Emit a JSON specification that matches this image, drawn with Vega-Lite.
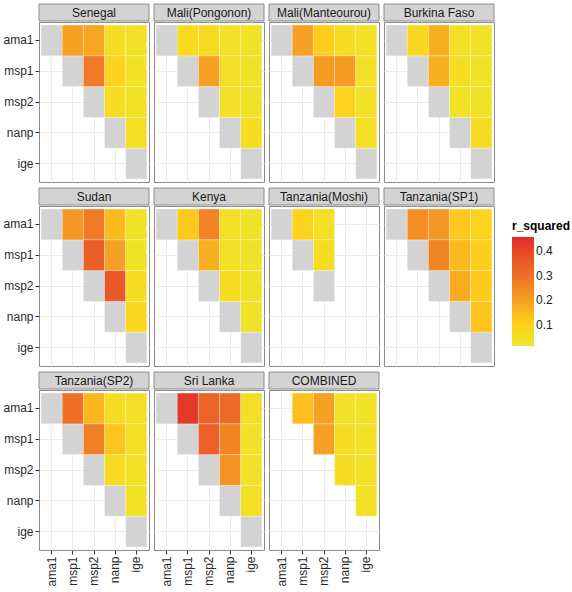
{
 "$schema": "https://vega.github.io/schema/vega-lite/v6.json",
 "padding": {"left": 2, "top": 3, "right": 0, "bottom": 0},
 "background": "white",
 "data": {"values": [
  {"s":"Senegal","r":"ama1","c":"ama1","v":null},{"s":"Senegal","r":"msp1","c":"msp1","v":null},{"s":"Senegal","r":"msp2","c":"msp2","v":null},{"s":"Senegal","r":"nanp","c":"nanp","v":null},{"s":"Senegal","r":"ige","c":"ige","v":null},
  {"s":"Senegal","r":"ama1","c":"msp1","v":0.2},{"s":"Senegal","r":"ama1","c":"msp2","v":0.19},{"s":"Senegal","r":"ama1","c":"nanp","v":0.06},{"s":"Senegal","r":"ama1","c":"ige","v":0.04},
  {"s":"Senegal","r":"msp1","c":"msp2","v":0.28},{"s":"Senegal","r":"msp1","c":"nanp","v":0.1},{"s":"Senegal","r":"msp1","c":"ige","v":0.04},
  {"s":"Senegal","r":"msp2","c":"nanp","v":0.06},{"s":"Senegal","r":"msp2","c":"ige","v":0.04},{"s":"Senegal","r":"nanp","c":"ige","v":0.05},
  {"s":"Mali(Pongonon)","r":"ama1","c":"ama1","v":null},{"s":"Mali(Pongonon)","r":"msp1","c":"msp1","v":null},{"s":"Mali(Pongonon)","r":"msp2","c":"msp2","v":null},{"s":"Mali(Pongonon)","r":"nanp","c":"nanp","v":null},{"s":"Mali(Pongonon)","r":"ige","c":"ige","v":null},
  {"s":"Mali(Pongonon)","r":"ama1","c":"msp1","v":0.07},{"s":"Mali(Pongonon)","r":"ama1","c":"msp2","v":0.07},{"s":"Mali(Pongonon)","r":"ama1","c":"nanp","v":0.04},{"s":"Mali(Pongonon)","r":"ama1","c":"ige","v":0.04},
  {"s":"Mali(Pongonon)","r":"msp1","c":"msp2","v":0.2},{"s":"Mali(Pongonon)","r":"msp1","c":"nanp","v":0.05},{"s":"Mali(Pongonon)","r":"msp1","c":"ige","v":0.04},
  {"s":"Mali(Pongonon)","r":"msp2","c":"nanp","v":0.05},{"s":"Mali(Pongonon)","r":"msp2","c":"ige","v":0.04},{"s":"Mali(Pongonon)","r":"nanp","c":"ige","v":0.06},
  {"s":"Mali(Manteourou)","r":"ama1","c":"ama1","v":null},{"s":"Mali(Manteourou)","r":"msp1","c":"msp1","v":null},{"s":"Mali(Manteourou)","r":"msp2","c":"msp2","v":null},{"s":"Mali(Manteourou)","r":"nanp","c":"nanp","v":null},{"s":"Mali(Manteourou)","r":"ige","c":"ige","v":null},
  {"s":"Mali(Manteourou)","r":"ama1","c":"msp1","v":0.2},{"s":"Mali(Manteourou)","r":"ama1","c":"msp2","v":0.11},{"s":"Mali(Manteourou)","r":"ama1","c":"nanp","v":0.06},{"s":"Mali(Manteourou)","r":"ama1","c":"ige","v":0.04},
  {"s":"Mali(Manteourou)","r":"msp1","c":"msp2","v":0.21},{"s":"Mali(Manteourou)","r":"msp1","c":"nanp","v":0.21},{"s":"Mali(Manteourou)","r":"msp1","c":"ige","v":0.04},
  {"s":"Mali(Manteourou)","r":"msp2","c":"nanp","v":0.1},{"s":"Mali(Manteourou)","r":"msp2","c":"ige","v":0.04},{"s":"Mali(Manteourou)","r":"nanp","c":"ige","v":0.05},
  {"s":"Burkina Faso","r":"ama1","c":"ama1","v":null},{"s":"Burkina Faso","r":"msp1","c":"msp1","v":null},{"s":"Burkina Faso","r":"msp2","c":"msp2","v":null},{"s":"Burkina Faso","r":"nanp","c":"nanp","v":null},{"s":"Burkina Faso","r":"ige","c":"ige","v":null},
  {"s":"Burkina Faso","r":"ama1","c":"msp1","v":0.08},{"s":"Burkina Faso","r":"ama1","c":"msp2","v":0.17},{"s":"Burkina Faso","r":"ama1","c":"nanp","v":0.05},{"s":"Burkina Faso","r":"ama1","c":"ige","v":0.04},
  {"s":"Burkina Faso","r":"msp1","c":"msp2","v":0.17},{"s":"Burkina Faso","r":"msp1","c":"nanp","v":0.06},{"s":"Burkina Faso","r":"msp1","c":"ige","v":0.04},
  {"s":"Burkina Faso","r":"msp2","c":"nanp","v":0.04},{"s":"Burkina Faso","r":"msp2","c":"ige","v":0.04},{"s":"Burkina Faso","r":"nanp","c":"ige","v":0.06},
  {"s":"Sudan","r":"ama1","c":"ama1","v":null},{"s":"Sudan","r":"msp1","c":"msp1","v":null},{"s":"Sudan","r":"msp2","c":"msp2","v":null},{"s":"Sudan","r":"nanp","c":"nanp","v":null},{"s":"Sudan","r":"ige","c":"ige","v":null},
  {"s":"Sudan","r":"ama1","c":"msp1","v":0.22},{"s":"Sudan","r":"ama1","c":"msp2","v":0.28},{"s":"Sudan","r":"ama1","c":"nanp","v":0.15},{"s":"Sudan","r":"ama1","c":"ige","v":0.04},
  {"s":"Sudan","r":"msp1","c":"msp2","v":0.35},{"s":"Sudan","r":"msp1","c":"nanp","v":0.2},{"s":"Sudan","r":"msp1","c":"ige","v":0.04},
  {"s":"Sudan","r":"msp2","c":"nanp","v":0.36},{"s":"Sudan","r":"msp2","c":"ige","v":0.06},{"s":"Sudan","r":"nanp","c":"ige","v":0.08},
  {"s":"Kenya","r":"ama1","c":"ama1","v":null},{"s":"Kenya","r":"msp1","c":"msp1","v":null},{"s":"Kenya","r":"msp2","c":"msp2","v":null},{"s":"Kenya","r":"nanp","c":"nanp","v":null},{"s":"Kenya","r":"ige","c":"ige","v":null},
  {"s":"Kenya","r":"ama1","c":"msp1","v":0.12},{"s":"Kenya","r":"ama1","c":"msp2","v":0.26},{"s":"Kenya","r":"ama1","c":"nanp","v":0.05},{"s":"Kenya","r":"ama1","c":"ige","v":0.04},
  {"s":"Kenya","r":"msp1","c":"msp2","v":0.17},{"s":"Kenya","r":"msp1","c":"nanp","v":0.05},{"s":"Kenya","r":"msp1","c":"ige","v":0.04},
  {"s":"Kenya","r":"msp2","c":"nanp","v":0.07},{"s":"Kenya","r":"msp2","c":"ige","v":0.04},{"s":"Kenya","r":"nanp","c":"ige","v":0.04},
  {"s":"Tanzania(Moshi)","r":"ama1","c":"ama1","v":null},{"s":"Tanzania(Moshi)","r":"msp1","c":"msp1","v":null},{"s":"Tanzania(Moshi)","r":"msp2","c":"msp2","v":null},
  {"s":"Tanzania(Moshi)","r":"ama1","c":"msp1","v":0.1},{"s":"Tanzania(Moshi)","r":"ama1","c":"msp2","v":0.05},{"s":"Tanzania(Moshi)","r":"msp1","c":"msp2","v":0.06},
  {"s":"Tanzania(SP1)","r":"ama1","c":"ama1","v":null},{"s":"Tanzania(SP1)","r":"msp1","c":"msp1","v":null},{"s":"Tanzania(SP1)","r":"msp2","c":"msp2","v":null},{"s":"Tanzania(SP1)","r":"nanp","c":"nanp","v":null},{"s":"Tanzania(SP1)","r":"ige","c":"ige","v":null},
  {"s":"Tanzania(SP1)","r":"ama1","c":"msp1","v":0.24},{"s":"Tanzania(SP1)","r":"ama1","c":"msp2","v":0.22},{"s":"Tanzania(SP1)","r":"ama1","c":"nanp","v":0.12},{"s":"Tanzania(SP1)","r":"ama1","c":"ige","v":0.1},
  {"s":"Tanzania(SP1)","r":"msp1","c":"msp2","v":0.26},{"s":"Tanzania(SP1)","r":"msp1","c":"nanp","v":0.15},{"s":"Tanzania(SP1)","r":"msp1","c":"ige","v":0.11},
  {"s":"Tanzania(SP1)","r":"msp2","c":"nanp","v":0.18},{"s":"Tanzania(SP1)","r":"msp2","c":"ige","v":0.12},{"s":"Tanzania(SP1)","r":"nanp","c":"ige","v":0.13},
  {"s":"Tanzania(SP2)","r":"ama1","c":"ama1","v":null},{"s":"Tanzania(SP2)","r":"msp1","c":"msp1","v":null},{"s":"Tanzania(SP2)","r":"msp2","c":"msp2","v":null},{"s":"Tanzania(SP2)","r":"nanp","c":"nanp","v":null},{"s":"Tanzania(SP2)","r":"ige","c":"ige","v":null},
  {"s":"Tanzania(SP2)","r":"ama1","c":"msp1","v":0.3},{"s":"Tanzania(SP2)","r":"ama1","c":"msp2","v":0.16},{"s":"Tanzania(SP2)","r":"ama1","c":"nanp","v":0.06},{"s":"Tanzania(SP2)","r":"ama1","c":"ige","v":0.05},
  {"s":"Tanzania(SP2)","r":"msp1","c":"msp2","v":0.27},{"s":"Tanzania(SP2)","r":"msp1","c":"nanp","v":0.13},{"s":"Tanzania(SP2)","r":"msp1","c":"ige","v":0.05},
  {"s":"Tanzania(SP2)","r":"msp2","c":"nanp","v":0.07},{"s":"Tanzania(SP2)","r":"msp2","c":"ige","v":0.04},{"s":"Tanzania(SP2)","r":"nanp","c":"ige","v":0.04},
  {"s":"Sri Lanka","r":"ama1","c":"ama1","v":null},{"s":"Sri Lanka","r":"msp1","c":"msp1","v":null},{"s":"Sri Lanka","r":"msp2","c":"msp2","v":null},{"s":"Sri Lanka","r":"nanp","c":"nanp","v":null},{"s":"Sri Lanka","r":"ige","c":"ige","v":null},
  {"s":"Sri Lanka","r":"ama1","c":"msp1","v":0.43},{"s":"Sri Lanka","r":"ama1","c":"msp2","v":0.33},{"s":"Sri Lanka","r":"ama1","c":"nanp","v":0.32},{"s":"Sri Lanka","r":"ama1","c":"ige","v":0.05},
  {"s":"Sri Lanka","r":"msp1","c":"msp2","v":0.34},{"s":"Sri Lanka","r":"msp1","c":"nanp","v":0.26},{"s":"Sri Lanka","r":"msp1","c":"ige","v":0.04},
  {"s":"Sri Lanka","r":"msp2","c":"nanp","v":0.23},{"s":"Sri Lanka","r":"msp2","c":"ige","v":0.04},{"s":"Sri Lanka","r":"nanp","c":"ige","v":0.05},
  {"s":"COMBINED","r":"ama1","c":"msp1","v":0.14},{"s":"COMBINED","r":"ama1","c":"msp2","v":0.2},{"s":"COMBINED","r":"ama1","c":"nanp","v":0.04},{"s":"COMBINED","r":"ama1","c":"ige","v":0.04},
  {"s":"COMBINED","r":"msp1","c":"msp2","v":0.2},{"s":"COMBINED","r":"msp1","c":"nanp","v":0.06},{"s":"COMBINED","r":"msp1","c":"ige","v":0.04},
  {"s":"COMBINED","r":"msp2","c":"nanp","v":0.06},{"s":"COMBINED","r":"msp2","c":"ige","v":0.04},{"s":"COMBINED","r":"nanp","c":"ige","v":0.04}
 ]},
 "spacing": 4,
 "resolve": {"scale": {"fill": "shared"}, "legend": {"fill": "shared"}},
 "vconcat": [
  {"spacing": 3, "resolve": {"scale": {"fill": "shared"}, "legend": {"fill": "shared"}}, "hconcat": [
   {"width": 110, "height": 160, "transform": [{"filter": "datum.s == 'Senegal'"}], "layer": [
     {"transform": [{"filter": "datum.v == null"}], "mark": {"type": "rect", "fill": "#d3d3d3", "stroke": "#ffffff", "strokeWidth": 0.5, "strokeOpacity": 0.5}, "encoding": {"x": {"field": "c", "type": "nominal", "title": null, "scale": {"domain": ["ama1","msp1","msp2","nanp","ige"]}, "axis": {"labels": false, "ticks": false}}, "y": {"field": "r", "type": "nominal", "title": null, "scale": {"domain": ["ama1","msp1","msp2","nanp","ige"]}, "axis": {}}}},
     {"transform": [{"filter": "datum.v != null"}], "mark": {"type": "rect", "stroke": "#ffffff", "strokeWidth": 0.5, "strokeOpacity": 0.5}, "encoding": {"x": {"field": "c", "type": "nominal", "title": null, "scale": {"domain": ["ama1","msp1","msp2","nanp","ige"]}, "axis": {"labels": false, "ticks": false, "tickBand": "extent", "gridColor": "#f3f3f3", "gridWidth": 0.6}}, "y": {"field": "r", "type": "nominal", "title": null, "scale": {"domain": ["ama1","msp1","msp2","nanp","ige"]}, "axis": {"labels": false, "ticks": false, "tickBand": "extent", "gridColor": "#f3f3f3", "gridWidth": 0.6}}, "fill": {"field": "v", "type": "quantitative", "title": "r_squared", "scale": {"domain": [0.015, 0.1, 0.2, 0.3, 0.457], "range": ["#ECE82D", "#FDD31D", "#F6A124", "#EE7027", "#DF2A2A"]}, "legend": {"title": "r_squared", "values": [0.1, 0.2, 0.3, 0.4], "orient": "none", "legendX": 473, "legendY": 199, "gradientLength": 109, "gradientThickness": 22, "direction": "vertical"}}}},
     {"transform": [{"aggregate": [{"op": "count", "as": "n"}], "groupby": ["s"]}], "mark": {"type": "rect", "fill": "#d3d3d3", "stroke": "#8c8c8c", "strokeWidth": 1}, "encoding": {"x": {"datum": 0, "type": "quantitative", "scale": {"domain": [0, 1], "nice": false, "zero": false}, "axis": null}, "x2": {"datum": 1}, "y": {"datum": 0, "type": "quantitative", "scale": {"domain": [0, 1], "range": [-1, -18], "nice": false, "zero": false}, "axis": null}, "y2": {"datum": 1}}},
     {"transform": [{"aggregate": [{"op": "count", "as": "n"}], "groupby": ["s"]}], "mark": {"type": "text", "fontSize": 12, "color": "#1a1a1a", "baseline": "middle", "align": "center"}, "encoding": {"x": {"datum": 0.5, "type": "quantitative", "scale": {"domain": [0, 1], "nice": false, "zero": false}, "axis": null}, "y": {"datum": 0.5, "type": "quantitative", "scale": {"domain": [0, 1], "range": [-1, -18], "nice": false, "zero": false}, "axis": null}, "text": {"field": "s"}}}
    ], "resolve": {"scale": {"x": "independent", "y": "independent"}}},
   {"width": 110, "height": 160, "transform": [{"filter": "datum.s == 'Mali(Pongonon)'"}], "layer": [
     {"transform": [{"filter": "datum.v == null"}], "mark": {"type": "rect", "fill": "#d3d3d3", "stroke": "#ffffff", "strokeWidth": 0.5, "strokeOpacity": 0.5}, "encoding": {"x": {"field": "c", "type": "nominal", "title": null, "scale": {"domain": ["ama1","msp1","msp2","nanp","ige"]}, "axis": {"labels": false, "ticks": false}}, "y": {"field": "r", "type": "nominal", "title": null, "scale": {"domain": ["ama1","msp1","msp2","nanp","ige"]}, "axis": {"labels": false, "ticks": false}}}},
     {"transform": [{"filter": "datum.v != null"}], "mark": {"type": "rect", "stroke": "#ffffff", "strokeWidth": 0.5, "strokeOpacity": 0.5}, "encoding": {"x": {"field": "c", "type": "nominal", "title": null, "scale": {"domain": ["ama1","msp1","msp2","nanp","ige"]}, "axis": {"labels": false, "ticks": false, "tickBand": "extent", "gridColor": "#f3f3f3", "gridWidth": 0.6}}, "y": {"field": "r", "type": "nominal", "title": null, "scale": {"domain": ["ama1","msp1","msp2","nanp","ige"]}, "axis": {"labels": false, "ticks": false, "tickBand": "extent", "gridColor": "#f3f3f3", "gridWidth": 0.6}}, "fill": {"field": "v", "type": "quantitative", "title": "r_squared", "scale": {"domain": [0.015, 0.1, 0.2, 0.3, 0.457], "range": ["#ECE82D", "#FDD31D", "#F6A124", "#EE7027", "#DF2A2A"]}}}},
     {"transform": [{"aggregate": [{"op": "count", "as": "n"}], "groupby": ["s"]}], "mark": {"type": "rect", "fill": "#d3d3d3", "stroke": "#8c8c8c", "strokeWidth": 1}, "encoding": {"x": {"datum": 0, "type": "quantitative", "scale": {"domain": [0, 1], "nice": false, "zero": false}, "axis": null}, "x2": {"datum": 1}, "y": {"datum": 0, "type": "quantitative", "scale": {"domain": [0, 1], "range": [-1, -18], "nice": false, "zero": false}, "axis": null}, "y2": {"datum": 1}}},
     {"transform": [{"aggregate": [{"op": "count", "as": "n"}], "groupby": ["s"]}], "mark": {"type": "text", "fontSize": 12, "color": "#1a1a1a", "baseline": "middle", "align": "center"}, "encoding": {"x": {"datum": 0.5, "type": "quantitative", "scale": {"domain": [0, 1], "nice": false, "zero": false}, "axis": null}, "y": {"datum": 0.5, "type": "quantitative", "scale": {"domain": [0, 1], "range": [-1, -18], "nice": false, "zero": false}, "axis": null}, "text": {"field": "s"}}}
    ], "resolve": {"scale": {"x": "independent", "y": "independent"}}},
   {"width": 110, "height": 160, "transform": [{"filter": "datum.s == 'Mali(Manteourou)'"}], "layer": [
     {"transform": [{"filter": "datum.v == null"}], "mark": {"type": "rect", "fill": "#d3d3d3", "stroke": "#ffffff", "strokeWidth": 0.5, "strokeOpacity": 0.5}, "encoding": {"x": {"field": "c", "type": "nominal", "title": null, "scale": {"domain": ["ama1","msp1","msp2","nanp","ige"]}, "axis": {"labels": false, "ticks": false}}, "y": {"field": "r", "type": "nominal", "title": null, "scale": {"domain": ["ama1","msp1","msp2","nanp","ige"]}, "axis": {"labels": false, "ticks": false}}}},
     {"transform": [{"filter": "datum.v != null"}], "mark": {"type": "rect", "stroke": "#ffffff", "strokeWidth": 0.5, "strokeOpacity": 0.5}, "encoding": {"x": {"field": "c", "type": "nominal", "title": null, "scale": {"domain": ["ama1","msp1","msp2","nanp","ige"]}, "axis": {"labels": false, "ticks": false, "tickBand": "extent", "gridColor": "#f3f3f3", "gridWidth": 0.6}}, "y": {"field": "r", "type": "nominal", "title": null, "scale": {"domain": ["ama1","msp1","msp2","nanp","ige"]}, "axis": {"labels": false, "ticks": false, "tickBand": "extent", "gridColor": "#f3f3f3", "gridWidth": 0.6}}, "fill": {"field": "v", "type": "quantitative", "title": "r_squared", "scale": {"domain": [0.015, 0.1, 0.2, 0.3, 0.457], "range": ["#ECE82D", "#FDD31D", "#F6A124", "#EE7027", "#DF2A2A"]}}}},
     {"transform": [{"aggregate": [{"op": "count", "as": "n"}], "groupby": ["s"]}], "mark": {"type": "rect", "fill": "#d3d3d3", "stroke": "#8c8c8c", "strokeWidth": 1}, "encoding": {"x": {"datum": 0, "type": "quantitative", "scale": {"domain": [0, 1], "nice": false, "zero": false}, "axis": null}, "x2": {"datum": 1}, "y": {"datum": 0, "type": "quantitative", "scale": {"domain": [0, 1], "range": [-1, -18], "nice": false, "zero": false}, "axis": null}, "y2": {"datum": 1}}},
     {"transform": [{"aggregate": [{"op": "count", "as": "n"}], "groupby": ["s"]}], "mark": {"type": "text", "fontSize": 12, "color": "#1a1a1a", "baseline": "middle", "align": "center"}, "encoding": {"x": {"datum": 0.5, "type": "quantitative", "scale": {"domain": [0, 1], "nice": false, "zero": false}, "axis": null}, "y": {"datum": 0.5, "type": "quantitative", "scale": {"domain": [0, 1], "range": [-1, -18], "nice": false, "zero": false}, "axis": null}, "text": {"field": "s"}}}
    ], "resolve": {"scale": {"x": "independent", "y": "independent"}}},
   {"width": 110, "height": 160, "transform": [{"filter": "datum.s == 'Burkina Faso'"}], "layer": [
     {"transform": [{"filter": "datum.v == null"}], "mark": {"type": "rect", "fill": "#d3d3d3", "stroke": "#ffffff", "strokeWidth": 0.5, "strokeOpacity": 0.5}, "encoding": {"x": {"field": "c", "type": "nominal", "title": null, "scale": {"domain": ["ama1","msp1","msp2","nanp","ige"]}, "axis": {"labels": false, "ticks": false}}, "y": {"field": "r", "type": "nominal", "title": null, "scale": {"domain": ["ama1","msp1","msp2","nanp","ige"]}, "axis": {"labels": false, "ticks": false}}}},
     {"transform": [{"filter": "datum.v != null"}], "mark": {"type": "rect", "stroke": "#ffffff", "strokeWidth": 0.5, "strokeOpacity": 0.5}, "encoding": {"x": {"field": "c", "type": "nominal", "title": null, "scale": {"domain": ["ama1","msp1","msp2","nanp","ige"]}, "axis": {"labels": false, "ticks": false, "tickBand": "extent", "gridColor": "#f3f3f3", "gridWidth": 0.6}}, "y": {"field": "r", "type": "nominal", "title": null, "scale": {"domain": ["ama1","msp1","msp2","nanp","ige"]}, "axis": {"labels": false, "ticks": false, "tickBand": "extent", "gridColor": "#f3f3f3", "gridWidth": 0.6}}, "fill": {"field": "v", "type": "quantitative", "title": "r_squared", "scale": {"domain": [0.015, 0.1, 0.2, 0.3, 0.457], "range": ["#ECE82D", "#FDD31D", "#F6A124", "#EE7027", "#DF2A2A"]}}}},
     {"transform": [{"aggregate": [{"op": "count", "as": "n"}], "groupby": ["s"]}], "mark": {"type": "rect", "fill": "#d3d3d3", "stroke": "#8c8c8c", "strokeWidth": 1}, "encoding": {"x": {"datum": 0, "type": "quantitative", "scale": {"domain": [0, 1], "nice": false, "zero": false}, "axis": null}, "x2": {"datum": 1}, "y": {"datum": 0, "type": "quantitative", "scale": {"domain": [0, 1], "range": [-1, -18], "nice": false, "zero": false}, "axis": null}, "y2": {"datum": 1}}},
     {"transform": [{"aggregate": [{"op": "count", "as": "n"}], "groupby": ["s"]}], "mark": {"type": "text", "fontSize": 12, "color": "#1a1a1a", "baseline": "middle", "align": "center"}, "encoding": {"x": {"datum": 0.5, "type": "quantitative", "scale": {"domain": [0, 1], "nice": false, "zero": false}, "axis": null}, "y": {"datum": 0.5, "type": "quantitative", "scale": {"domain": [0, 1], "range": [-1, -18], "nice": false, "zero": false}, "axis": null}, "text": {"field": "s"}}}
    ], "resolve": {"scale": {"x": "independent", "y": "independent"}}}
  ]},
  {"spacing": 3, "resolve": {"scale": {"fill": "shared"}, "legend": {"fill": "shared"}}, "hconcat": [
   {"width": 110, "height": 160, "transform": [{"filter": "datum.s == 'Sudan'"}], "layer": [
     {"transform": [{"filter": "datum.v == null"}], "mark": {"type": "rect", "fill": "#d3d3d3", "stroke": "#ffffff", "strokeWidth": 0.5, "strokeOpacity": 0.5}, "encoding": {"x": {"field": "c", "type": "nominal", "title": null, "scale": {"domain": ["ama1","msp1","msp2","nanp","ige"]}, "axis": {"labels": false, "ticks": false}}, "y": {"field": "r", "type": "nominal", "title": null, "scale": {"domain": ["ama1","msp1","msp2","nanp","ige"]}, "axis": {}}}},
     {"transform": [{"filter": "datum.v != null"}], "mark": {"type": "rect", "stroke": "#ffffff", "strokeWidth": 0.5, "strokeOpacity": 0.5}, "encoding": {"x": {"field": "c", "type": "nominal", "title": null, "scale": {"domain": ["ama1","msp1","msp2","nanp","ige"]}, "axis": {"labels": false, "ticks": false, "tickBand": "extent", "gridColor": "#f3f3f3", "gridWidth": 0.6}}, "y": {"field": "r", "type": "nominal", "title": null, "scale": {"domain": ["ama1","msp1","msp2","nanp","ige"]}, "axis": {"labels": false, "ticks": false, "tickBand": "extent", "gridColor": "#f3f3f3", "gridWidth": 0.6}}, "fill": {"field": "v", "type": "quantitative", "title": "r_squared", "scale": {"domain": [0.015, 0.1, 0.2, 0.3, 0.457], "range": ["#ECE82D", "#FDD31D", "#F6A124", "#EE7027", "#DF2A2A"]}}}},
     {"transform": [{"aggregate": [{"op": "count", "as": "n"}], "groupby": ["s"]}], "mark": {"type": "rect", "fill": "#d3d3d3", "stroke": "#8c8c8c", "strokeWidth": 1}, "encoding": {"x": {"datum": 0, "type": "quantitative", "scale": {"domain": [0, 1], "nice": false, "zero": false}, "axis": null}, "x2": {"datum": 1}, "y": {"datum": 0, "type": "quantitative", "scale": {"domain": [0, 1], "range": [-1, -18], "nice": false, "zero": false}, "axis": null}, "y2": {"datum": 1}}},
     {"transform": [{"aggregate": [{"op": "count", "as": "n"}], "groupby": ["s"]}], "mark": {"type": "text", "fontSize": 12, "color": "#1a1a1a", "baseline": "middle", "align": "center"}, "encoding": {"x": {"datum": 0.5, "type": "quantitative", "scale": {"domain": [0, 1], "nice": false, "zero": false}, "axis": null}, "y": {"datum": 0.5, "type": "quantitative", "scale": {"domain": [0, 1], "range": [-1, -18], "nice": false, "zero": false}, "axis": null}, "text": {"field": "s"}}}
    ], "resolve": {"scale": {"x": "independent", "y": "independent"}}},
   {"width": 110, "height": 160, "transform": [{"filter": "datum.s == 'Kenya'"}], "layer": [
     {"transform": [{"filter": "datum.v == null"}], "mark": {"type": "rect", "fill": "#d3d3d3", "stroke": "#ffffff", "strokeWidth": 0.5, "strokeOpacity": 0.5}, "encoding": {"x": {"field": "c", "type": "nominal", "title": null, "scale": {"domain": ["ama1","msp1","msp2","nanp","ige"]}, "axis": {"labels": false, "ticks": false}}, "y": {"field": "r", "type": "nominal", "title": null, "scale": {"domain": ["ama1","msp1","msp2","nanp","ige"]}, "axis": {"labels": false, "ticks": false}}}},
     {"transform": [{"filter": "datum.v != null"}], "mark": {"type": "rect", "stroke": "#ffffff", "strokeWidth": 0.5, "strokeOpacity": 0.5}, "encoding": {"x": {"field": "c", "type": "nominal", "title": null, "scale": {"domain": ["ama1","msp1","msp2","nanp","ige"]}, "axis": {"labels": false, "ticks": false, "tickBand": "extent", "gridColor": "#f3f3f3", "gridWidth": 0.6}}, "y": {"field": "r", "type": "nominal", "title": null, "scale": {"domain": ["ama1","msp1","msp2","nanp","ige"]}, "axis": {"labels": false, "ticks": false, "tickBand": "extent", "gridColor": "#f3f3f3", "gridWidth": 0.6}}, "fill": {"field": "v", "type": "quantitative", "title": "r_squared", "scale": {"domain": [0.015, 0.1, 0.2, 0.3, 0.457], "range": ["#ECE82D", "#FDD31D", "#F6A124", "#EE7027", "#DF2A2A"]}}}},
     {"transform": [{"aggregate": [{"op": "count", "as": "n"}], "groupby": ["s"]}], "mark": {"type": "rect", "fill": "#d3d3d3", "stroke": "#8c8c8c", "strokeWidth": 1}, "encoding": {"x": {"datum": 0, "type": "quantitative", "scale": {"domain": [0, 1], "nice": false, "zero": false}, "axis": null}, "x2": {"datum": 1}, "y": {"datum": 0, "type": "quantitative", "scale": {"domain": [0, 1], "range": [-1, -18], "nice": false, "zero": false}, "axis": null}, "y2": {"datum": 1}}},
     {"transform": [{"aggregate": [{"op": "count", "as": "n"}], "groupby": ["s"]}], "mark": {"type": "text", "fontSize": 12, "color": "#1a1a1a", "baseline": "middle", "align": "center"}, "encoding": {"x": {"datum": 0.5, "type": "quantitative", "scale": {"domain": [0, 1], "nice": false, "zero": false}, "axis": null}, "y": {"datum": 0.5, "type": "quantitative", "scale": {"domain": [0, 1], "range": [-1, -18], "nice": false, "zero": false}, "axis": null}, "text": {"field": "s"}}}
    ], "resolve": {"scale": {"x": "independent", "y": "independent"}}},
   {"width": 110, "height": 160, "transform": [{"filter": "datum.s == 'Tanzania(Moshi)'"}], "layer": [
     {"transform": [{"filter": "datum.v == null"}], "mark": {"type": "rect", "fill": "#d3d3d3", "stroke": "#ffffff", "strokeWidth": 0.5, "strokeOpacity": 0.5}, "encoding": {"x": {"field": "c", "type": "nominal", "title": null, "scale": {"domain": ["ama1","msp1","msp2","nanp","ige"]}, "axis": {"labels": false, "ticks": false}}, "y": {"field": "r", "type": "nominal", "title": null, "scale": {"domain": ["ama1","msp1","msp2","nanp","ige"]}, "axis": {"labels": false, "ticks": false}}}},
     {"transform": [{"filter": "datum.v != null"}], "mark": {"type": "rect", "stroke": "#ffffff", "strokeWidth": 0.5, "strokeOpacity": 0.5}, "encoding": {"x": {"field": "c", "type": "nominal", "title": null, "scale": {"domain": ["ama1","msp1","msp2","nanp","ige"]}, "axis": {"labels": false, "ticks": false, "tickBand": "extent", "gridColor": "#f3f3f3", "gridWidth": 0.6}}, "y": {"field": "r", "type": "nominal", "title": null, "scale": {"domain": ["ama1","msp1","msp2","nanp","ige"]}, "axis": {"labels": false, "ticks": false, "tickBand": "extent", "gridColor": "#f3f3f3", "gridWidth": 0.6}}, "fill": {"field": "v", "type": "quantitative", "title": "r_squared", "scale": {"domain": [0.015, 0.1, 0.2, 0.3, 0.457], "range": ["#ECE82D", "#FDD31D", "#F6A124", "#EE7027", "#DF2A2A"]}}}},
     {"transform": [{"aggregate": [{"op": "count", "as": "n"}], "groupby": ["s"]}], "mark": {"type": "rect", "fill": "#d3d3d3", "stroke": "#8c8c8c", "strokeWidth": 1}, "encoding": {"x": {"datum": 0, "type": "quantitative", "scale": {"domain": [0, 1], "nice": false, "zero": false}, "axis": null}, "x2": {"datum": 1}, "y": {"datum": 0, "type": "quantitative", "scale": {"domain": [0, 1], "range": [-1, -18], "nice": false, "zero": false}, "axis": null}, "y2": {"datum": 1}}},
     {"transform": [{"aggregate": [{"op": "count", "as": "n"}], "groupby": ["s"]}], "mark": {"type": "text", "fontSize": 12, "color": "#1a1a1a", "baseline": "middle", "align": "center"}, "encoding": {"x": {"datum": 0.5, "type": "quantitative", "scale": {"domain": [0, 1], "nice": false, "zero": false}, "axis": null}, "y": {"datum": 0.5, "type": "quantitative", "scale": {"domain": [0, 1], "range": [-1, -18], "nice": false, "zero": false}, "axis": null}, "text": {"field": "s"}}}
    ], "resolve": {"scale": {"x": "independent", "y": "independent"}}},
   {"width": 110, "height": 160, "transform": [{"filter": "datum.s == 'Tanzania(SP1)'"}], "layer": [
     {"transform": [{"filter": "datum.v == null"}], "mark": {"type": "rect", "fill": "#d3d3d3", "stroke": "#ffffff", "strokeWidth": 0.5, "strokeOpacity": 0.5}, "encoding": {"x": {"field": "c", "type": "nominal", "title": null, "scale": {"domain": ["ama1","msp1","msp2","nanp","ige"]}, "axis": {"labels": false, "ticks": false}}, "y": {"field": "r", "type": "nominal", "title": null, "scale": {"domain": ["ama1","msp1","msp2","nanp","ige"]}, "axis": {"labels": false, "ticks": false}}}},
     {"transform": [{"filter": "datum.v != null"}], "mark": {"type": "rect", "stroke": "#ffffff", "strokeWidth": 0.5, "strokeOpacity": 0.5}, "encoding": {"x": {"field": "c", "type": "nominal", "title": null, "scale": {"domain": ["ama1","msp1","msp2","nanp","ige"]}, "axis": {"labels": false, "ticks": false, "tickBand": "extent", "gridColor": "#f3f3f3", "gridWidth": 0.6}}, "y": {"field": "r", "type": "nominal", "title": null, "scale": {"domain": ["ama1","msp1","msp2","nanp","ige"]}, "axis": {"labels": false, "ticks": false, "tickBand": "extent", "gridColor": "#f3f3f3", "gridWidth": 0.6}}, "fill": {"field": "v", "type": "quantitative", "title": "r_squared", "scale": {"domain": [0.015, 0.1, 0.2, 0.3, 0.457], "range": ["#ECE82D", "#FDD31D", "#F6A124", "#EE7027", "#DF2A2A"]}}}},
     {"transform": [{"aggregate": [{"op": "count", "as": "n"}], "groupby": ["s"]}], "mark": {"type": "rect", "fill": "#d3d3d3", "stroke": "#8c8c8c", "strokeWidth": 1}, "encoding": {"x": {"datum": 0, "type": "quantitative", "scale": {"domain": [0, 1], "nice": false, "zero": false}, "axis": null}, "x2": {"datum": 1}, "y": {"datum": 0, "type": "quantitative", "scale": {"domain": [0, 1], "range": [-1, -18], "nice": false, "zero": false}, "axis": null}, "y2": {"datum": 1}}},
     {"transform": [{"aggregate": [{"op": "count", "as": "n"}], "groupby": ["s"]}], "mark": {"type": "text", "fontSize": 12, "color": "#1a1a1a", "baseline": "middle", "align": "center"}, "encoding": {"x": {"datum": 0.5, "type": "quantitative", "scale": {"domain": [0, 1], "nice": false, "zero": false}, "axis": null}, "y": {"datum": 0.5, "type": "quantitative", "scale": {"domain": [0, 1], "range": [-1, -18], "nice": false, "zero": false}, "axis": null}, "text": {"field": "s"}}}
    ], "resolve": {"scale": {"x": "independent", "y": "independent"}}}
  ]},
  {"spacing": 3, "resolve": {"scale": {"fill": "shared"}, "legend": {"fill": "shared"}}, "hconcat": [
   {"width": 110, "height": 160, "transform": [{"filter": "datum.s == 'Tanzania(SP2)'"}], "layer": [
     {"transform": [{"filter": "datum.v == null"}], "mark": {"type": "rect", "fill": "#d3d3d3", "stroke": "#ffffff", "strokeWidth": 0.5, "strokeOpacity": 0.5}, "encoding": {"x": {"field": "c", "type": "nominal", "title": null, "scale": {"domain": ["ama1","msp1","msp2","nanp","ige"]}, "axis": {"labelAngle": 270, "labelAlign": "right", "labelBaseline": "middle"}}, "y": {"field": "r", "type": "nominal", "title": null, "scale": {"domain": ["ama1","msp1","msp2","nanp","ige"]}, "axis": {}}}},
     {"transform": [{"filter": "datum.v != null"}], "mark": {"type": "rect", "stroke": "#ffffff", "strokeWidth": 0.5, "strokeOpacity": 0.5}, "encoding": {"x": {"field": "c", "type": "nominal", "title": null, "scale": {"domain": ["ama1","msp1","msp2","nanp","ige"]}, "axis": {"labels": false, "ticks": false, "tickBand": "extent", "gridColor": "#f3f3f3", "gridWidth": 0.6}}, "y": {"field": "r", "type": "nominal", "title": null, "scale": {"domain": ["ama1","msp1","msp2","nanp","ige"]}, "axis": {"labels": false, "ticks": false, "tickBand": "extent", "gridColor": "#f3f3f3", "gridWidth": 0.6}}, "fill": {"field": "v", "type": "quantitative", "title": "r_squared", "scale": {"domain": [0.015, 0.1, 0.2, 0.3, 0.457], "range": ["#ECE82D", "#FDD31D", "#F6A124", "#EE7027", "#DF2A2A"]}}}},
     {"transform": [{"aggregate": [{"op": "count", "as": "n"}], "groupby": ["s"]}], "mark": {"type": "rect", "fill": "#d3d3d3", "stroke": "#8c8c8c", "strokeWidth": 1}, "encoding": {"x": {"datum": 0, "type": "quantitative", "scale": {"domain": [0, 1], "nice": false, "zero": false}, "axis": null}, "x2": {"datum": 1}, "y": {"datum": 0, "type": "quantitative", "scale": {"domain": [0, 1], "range": [-1, -18], "nice": false, "zero": false}, "axis": null}, "y2": {"datum": 1}}},
     {"transform": [{"aggregate": [{"op": "count", "as": "n"}], "groupby": ["s"]}], "mark": {"type": "text", "fontSize": 12, "color": "#1a1a1a", "baseline": "middle", "align": "center"}, "encoding": {"x": {"datum": 0.5, "type": "quantitative", "scale": {"domain": [0, 1], "nice": false, "zero": false}, "axis": null}, "y": {"datum": 0.5, "type": "quantitative", "scale": {"domain": [0, 1], "range": [-1, -18], "nice": false, "zero": false}, "axis": null}, "text": {"field": "s"}}}
    ], "resolve": {"scale": {"x": "independent", "y": "independent"}}},
   {"width": 110, "height": 160, "transform": [{"filter": "datum.s == 'Sri Lanka'"}], "layer": [
     {"transform": [{"filter": "datum.v == null"}], "mark": {"type": "rect", "fill": "#d3d3d3", "stroke": "#ffffff", "strokeWidth": 0.5, "strokeOpacity": 0.5}, "encoding": {"x": {"field": "c", "type": "nominal", "title": null, "scale": {"domain": ["ama1","msp1","msp2","nanp","ige"]}, "axis": {"labelAngle": 270, "labelAlign": "right", "labelBaseline": "middle"}}, "y": {"field": "r", "type": "nominal", "title": null, "scale": {"domain": ["ama1","msp1","msp2","nanp","ige"]}, "axis": {"labels": false, "ticks": false}}}},
     {"transform": [{"filter": "datum.v != null"}], "mark": {"type": "rect", "stroke": "#ffffff", "strokeWidth": 0.5, "strokeOpacity": 0.5}, "encoding": {"x": {"field": "c", "type": "nominal", "title": null, "scale": {"domain": ["ama1","msp1","msp2","nanp","ige"]}, "axis": {"labels": false, "ticks": false, "tickBand": "extent", "gridColor": "#f3f3f3", "gridWidth": 0.6}}, "y": {"field": "r", "type": "nominal", "title": null, "scale": {"domain": ["ama1","msp1","msp2","nanp","ige"]}, "axis": {"labels": false, "ticks": false, "tickBand": "extent", "gridColor": "#f3f3f3", "gridWidth": 0.6}}, "fill": {"field": "v", "type": "quantitative", "title": "r_squared", "scale": {"domain": [0.015, 0.1, 0.2, 0.3, 0.457], "range": ["#ECE82D", "#FDD31D", "#F6A124", "#EE7027", "#DF2A2A"]}}}},
     {"transform": [{"aggregate": [{"op": "count", "as": "n"}], "groupby": ["s"]}], "mark": {"type": "rect", "fill": "#d3d3d3", "stroke": "#8c8c8c", "strokeWidth": 1}, "encoding": {"x": {"datum": 0, "type": "quantitative", "scale": {"domain": [0, 1], "nice": false, "zero": false}, "axis": null}, "x2": {"datum": 1}, "y": {"datum": 0, "type": "quantitative", "scale": {"domain": [0, 1], "range": [-1, -18], "nice": false, "zero": false}, "axis": null}, "y2": {"datum": 1}}},
     {"transform": [{"aggregate": [{"op": "count", "as": "n"}], "groupby": ["s"]}], "mark": {"type": "text", "fontSize": 12, "color": "#1a1a1a", "baseline": "middle", "align": "center"}, "encoding": {"x": {"datum": 0.5, "type": "quantitative", "scale": {"domain": [0, 1], "nice": false, "zero": false}, "axis": null}, "y": {"datum": 0.5, "type": "quantitative", "scale": {"domain": [0, 1], "range": [-1, -18], "nice": false, "zero": false}, "axis": null}, "text": {"field": "s"}}}
    ], "resolve": {"scale": {"x": "independent", "y": "independent"}}},
   {"width": 110, "height": 160, "transform": [{"filter": "datum.s == 'COMBINED'"}], "layer": [
     {"transform": [{"filter": "datum.v == null"}], "mark": {"type": "rect", "fill": "#d3d3d3", "stroke": "#ffffff", "strokeWidth": 0.5, "strokeOpacity": 0.5}, "encoding": {"x": {"field": "c", "type": "nominal", "title": null, "scale": {"domain": ["ama1","msp1","msp2","nanp","ige"]}, "axis": {"labelAngle": 270, "labelAlign": "right", "labelBaseline": "middle"}}, "y": {"field": "r", "type": "nominal", "title": null, "scale": {"domain": ["ama1","msp1","msp2","nanp","ige"]}, "axis": {"labels": false, "ticks": false}}}},
     {"transform": [{"filter": "datum.v != null"}], "mark": {"type": "rect", "stroke": "#ffffff", "strokeWidth": 0.5, "strokeOpacity": 0.5}, "encoding": {"x": {"field": "c", "type": "nominal", "title": null, "scale": {"domain": ["ama1","msp1","msp2","nanp","ige"]}, "axis": {"labels": false, "ticks": false, "tickBand": "extent", "gridColor": "#f3f3f3", "gridWidth": 0.6}}, "y": {"field": "r", "type": "nominal", "title": null, "scale": {"domain": ["ama1","msp1","msp2","nanp","ige"]}, "axis": {"labels": false, "ticks": false, "tickBand": "extent", "gridColor": "#f3f3f3", "gridWidth": 0.6}}, "fill": {"field": "v", "type": "quantitative", "title": "r_squared", "scale": {"domain": [0.015, 0.1, 0.2, 0.3, 0.457], "range": ["#ECE82D", "#FDD31D", "#F6A124", "#EE7027", "#DF2A2A"]}}}},
     {"transform": [{"aggregate": [{"op": "count", "as": "n"}], "groupby": ["s"]}], "mark": {"type": "rect", "fill": "#d3d3d3", "stroke": "#8c8c8c", "strokeWidth": 1}, "encoding": {"x": {"datum": 0, "type": "quantitative", "scale": {"domain": [0, 1], "nice": false, "zero": false}, "axis": null}, "x2": {"datum": 1}, "y": {"datum": 0, "type": "quantitative", "scale": {"domain": [0, 1], "range": [-1, -18], "nice": false, "zero": false}, "axis": null}, "y2": {"datum": 1}}},
     {"transform": [{"aggregate": [{"op": "count", "as": "n"}], "groupby": ["s"]}], "mark": {"type": "text", "fontSize": 12, "color": "#1a1a1a", "baseline": "middle", "align": "center"}, "encoding": {"x": {"datum": 0.5, "type": "quantitative", "scale": {"domain": [0, 1], "nice": false, "zero": false}, "axis": null}, "y": {"datum": 0.5, "type": "quantitative", "scale": {"domain": [0, 1], "range": [-1, -18], "nice": false, "zero": false}, "axis": null}, "text": {"field": "s"}}}
    ], "resolve": {"scale": {"x": "independent", "y": "independent"}}}
  ]}
 ],
 "config": {
  "font": "Liberation Sans",
  "view": {"stroke": "#8c8c8c", "strokeWidth": 1},
  "scale": {"bandPaddingInner": 0, "bandPaddingOuter": 0.1},
  "axis": {"labelFont": "Liberation Sans", "labelFontSize": 12, "labelColor": "#2b2b2b", "tickColor": "#333333", "zindex": 0,
           "tickSize": 4, "domain": false, "grid": true, "gridColor": "#ebebeb", "gridWidth": 1, "labelPadding": 2},
  "legend": {"gradientStrokeWidth": 0, "titleFontSize": 12, "titleFontWeight": "bold", "labelFontSize": 12, "labelOffset": 5,
             "titlePadding": 4, "titleColor": "#000000", "labelColor": "#1a1a1a"}
 }
}
